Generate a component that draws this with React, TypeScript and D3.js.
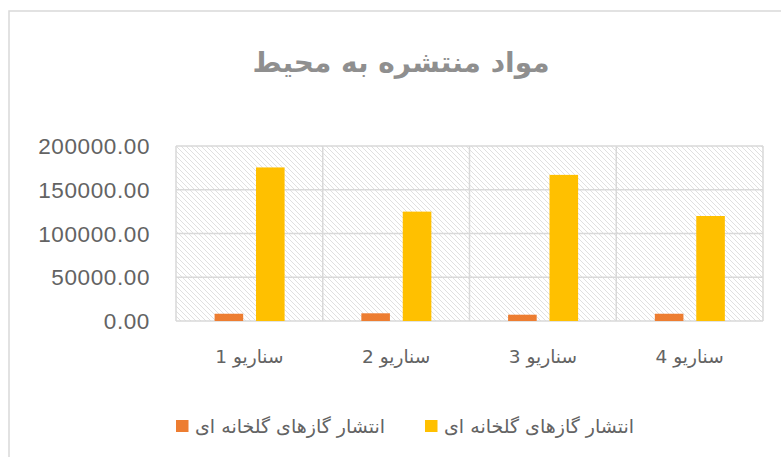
import React from "react";
import * as d3 from "d3";

const title = "مواد منتشره به محیط";
const categories = ["سناریو 1", "سناریو 2", "سناریو 3", "سناریو 4"];
const seriesNames = ["انتشار گازهای گلخانه ای", "انتشار گازهای گلخانه ای"];
const seriesA = [8300, 8800, 7200, 8300];
const seriesB = [175500, 125000, 167000, 120000];
const yTicks = [0, 50000, 100000, 150000, 200000];
const colors = ["#ED7D31", "#FFC000"];

const W = 781;
const H = 457;
const plot = { left: 176, right: 763, top: 146, bottom: 321 };

const rtl = (s: string) => "\u202B" + s + "\u202C";

export default function App() {
  const x = d3.scaleBand<string>().domain(categories).range([plot.left, plot.right]).padding(0);
  const bw = x.bandwidth();
  const xi = d3
    .scaleBand<string>()
    .domain(["0", "1"])
    .range([bw * 0.263, bw * 0.74])
    .paddingInner(0.31);
  const y = d3.scaleLinear().domain([0, 200000]).range([plot.bottom, plot.top]);
  const series = [seriesA, seriesB];
  const grid = "#d9d9d9";
  const textCol = "#636363";
  const font = "'Liberation Sans', 'DejaVu Sans', Arial, sans-serif";

  return (
    <svg
      width={W}
      height={H}
      style={{ position: "absolute", left: 0, top: 0, background: "#fff" }}
      fontFamily={font}
    >
      <defs>
        <pattern id="hatch" width="5" height="5" patternUnits="userSpaceOnUse">
          <rect width="5" height="5" fill="#ffffff" />
          <path d="M-1,-1 L6,6 M-1,4 L1,6 M4,-1 L6,1" stroke="#e0e0e0" strokeWidth="1" />
        </pattern>
      </defs>
      <rect x={9} y={11} width={820} height={500} fill="#fff" stroke="#d9d9d9" strokeWidth={1.5} />
      <text
        x={401}
        y={72}
        textAnchor="middle"
        fontSize={28}
        fontWeight="bold"
        fill="#8f8f8f"
        fontFamily="'DejaVu Sans', sans-serif"
      >
        {title}
      </text>
      <rect
        x={plot.left}
        y={plot.top}
        width={plot.right - plot.left}
        height={plot.bottom - plot.top}
        fill="url(#hatch)"
      />
      {yTicks.map((t) => (
        <line key={"g" + t} x1={plot.left} x2={plot.right} y1={y(t)} y2={y(t)} stroke={grid} strokeWidth={1.5} />
      ))}
      {categories.map((c) => (
        <line key={"v" + c} x1={x(c)!} x2={x(c)!} y1={plot.top} y2={plot.bottom} stroke={grid} strokeWidth={1.5} />
      ))}
      <line x1={plot.right} x2={plot.right} y1={plot.top} y2={plot.bottom} stroke={grid} strokeWidth={1.5} />
      {series.map((vals, si) =>
        categories.map((c, ci) => (
          <rect
            key={si + "-" + ci}
            x={x(c)! + xi(String(si))!}
            y={y(vals[ci])}
            width={xi.bandwidth()}
            height={y(0) - y(vals[ci])}
            fill={colors[si]}
          />
        ))
      )}
      {yTicks.map((t) => (
        <text
          key={"t" + t}
          x={150}
          y={y(t)}
          dy="0.36em"
          textAnchor="end"
          fontSize={22.5}
          letterSpacing={0.6}
          fill={textCol}
        >
          {d3.format(".2f")(t)}
        </text>
      ))}
      {categories.map((c) => (
        <text
          key={"l" + c}
          x={x(c)! + bw / 2}
          y={357}
          dy="0.35em"
          textAnchor="middle"
          fontSize={18.5}
          fill={textCol}
          fontFamily="'DejaVu Sans', sans-serif"
        >
          {rtl(c)}
        </text>
      ))}
      {seriesNames.map((n, i) => {
        const lx = [176, 425][i];
        return (
          <g key={"lg" + i}>
            <rect x={lx} y={420} width={12.5} height={12} fill={colors[i]} />
            <text
              x={lx + 19}
              y={426}
              dy="0.35em"
              textAnchor="start"
              fontSize={19}
              fill={textCol}
              fontFamily="'DejaVu Sans', sans-serif"
            >
              {rtl(n)}
            </text>
          </g>
        );
      })}
    </svg>
  );
}
